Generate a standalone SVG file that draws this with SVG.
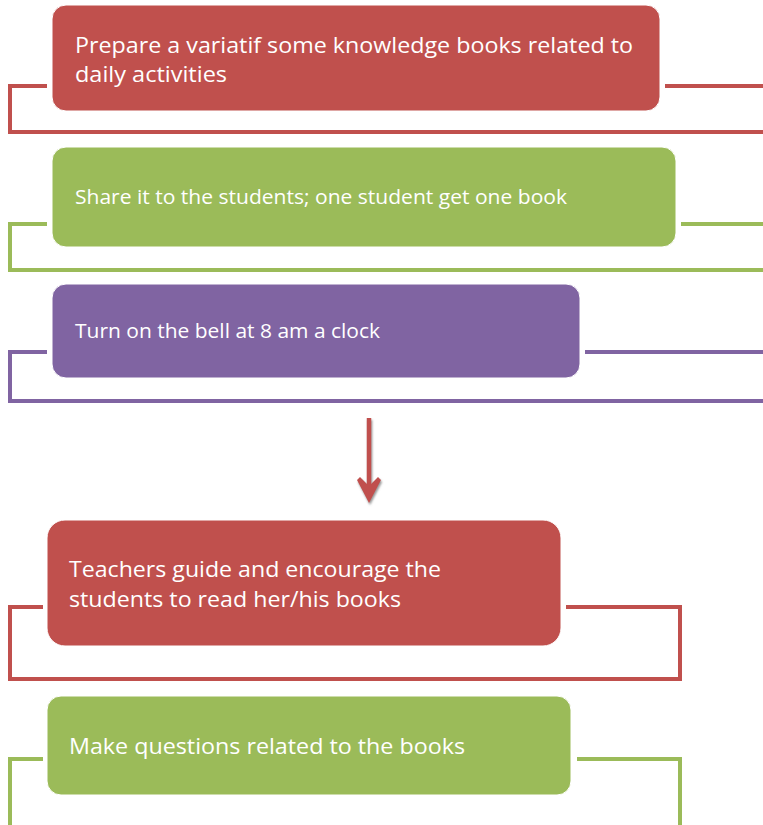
<svg xmlns="http://www.w3.org/2000/svg" width="763" height="825" viewBox="0 0 763 825">
<style>
.t{font-family:"Open Sans","Liberation Sans",sans-serif;fill:#fff}
.b1{font-size:22px}
.b2{font-size:19.5px}
.c{fill:none;stroke-width:4;stroke-linejoin:miter}
.red{fill:#C0504D;stroke:#fff;stroke-width:1}
.grn{fill:#9BBB59;stroke:#fff;stroke-width:1}
.pur{fill:#8064A2;stroke:#fff;stroke-width:1}
</style>
<defs>
<filter id="sh" x="-50%" y="-50%" width="200%" height="200%">
<feDropShadow dx="1" dy="2" stdDeviation="1" flood-color="#777" flood-opacity="0.8"/>
</filter>
</defs>
<rect width="763" height="825" fill="#fff"/>
<g id="connectors">
<path class="c" stroke="#C0504D" d="M47,86 H10 V132 H765 M665,86 H765"/>
<path class="c" stroke="#9BBB59" d="M47,224 H10 V270 H765 M681,224 H765"/>
<path class="c" stroke="#8064A2" d="M47,352 H10 V401 H765 M585,352 H765"/>
<path class="c" stroke="#C0504D" d="M43,607 H10 V679 H680 V607 H566"/>
<path class="c" stroke="#9BBB59" d="M43,759 H10 V827 H680 V759 H577"/>
<g id="arrow" filter="url(#sh)">
<line x1="369" y1="418" x2="369" y2="496" stroke="#C0504D" stroke-width="4.5"/>
<path d="M357,480 L360,477 L369,486 L378,477 L381,480 L369,503 Z" fill="#C0504D"/>
</g>
</g>
<g id="n1">
<rect class="red" x="52" y="5" width="608" height="106" rx="14"/>
<text class="t b1" x="75" y="53" textLength="558" lengthAdjust="spacingAndGlyphs">Prepare a variatif some knowledge books related to</text>
<text class="t b1" x="75" y="82" textLength="152" lengthAdjust="spacingAndGlyphs">daily activities</text>
</g>
<g id="n2">
<rect class="grn" x="52" y="147" width="624" height="100" rx="14"/>
<text class="t b2" x="75" y="204" textLength="492" lengthAdjust="spacingAndGlyphs">Share it to the students; one student get one book</text>
</g>
<g id="n3">
<rect class="pur" x="52" y="284" width="528" height="94" rx="14"/>
<text class="t b2" x="75" y="338" textLength="305" lengthAdjust="spacingAndGlyphs">Turn on the bell at 8 am a clock</text>
</g>
<g id="n4">
<rect class="red" x="47" y="520" width="514" height="126" rx="18"/>
<text class="t b1" x="69" y="577" textLength="372" lengthAdjust="spacingAndGlyphs">Teachers guide and encourage the</text>
<text class="t b1" x="69" y="607" textLength="332" lengthAdjust="spacingAndGlyphs">students to read her/his books</text>
</g>
<g id="n5">
<rect class="grn" x="47" y="696" width="524" height="99" rx="14"/>
<text class="t b1" x="69" y="754" textLength="396" lengthAdjust="spacingAndGlyphs">Make questions related to the books</text>
</g>
</svg>
